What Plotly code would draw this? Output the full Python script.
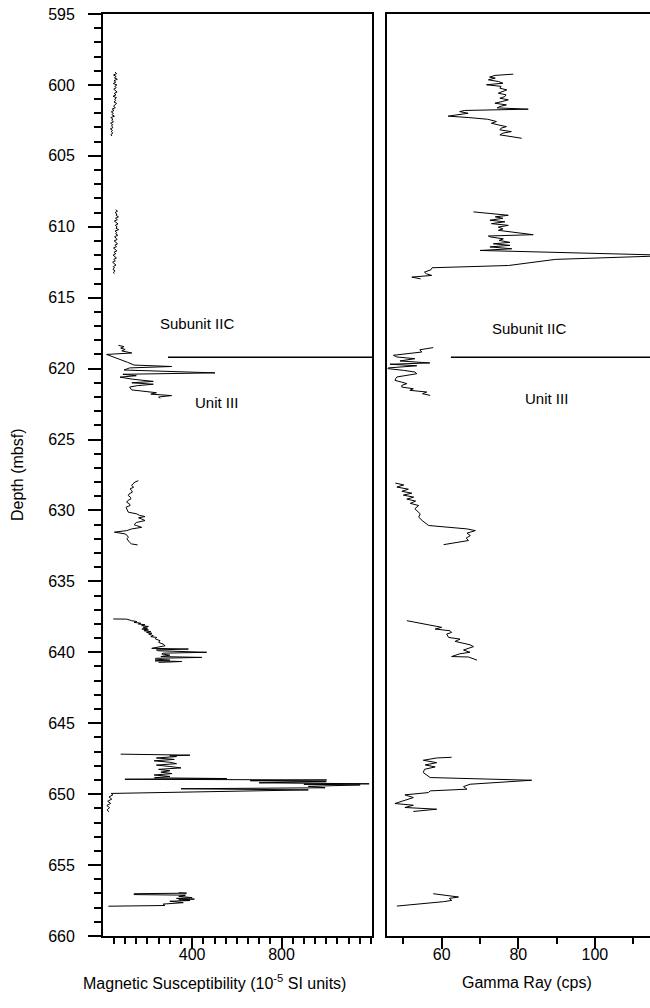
import plotly.graph_objects as go

# ---------------- Magnetic susceptibility (10^-5 SI) ----------------
ms_depth_1 = [round(599.1 + 0.1 * i, 2) for i in range(46)]
ms_value_1 = [55, 62, 48, 60, 52, 65, 50, 58, 47, 63, 54, 60, 49, 57, 64, 51, 59, 46, 61, 53,
              58, 50, 62, 55, 48, 56, 42, 50, 38, 47, 41, 52, 36, 45, 40, 48, 35, 44, 39, 46,
              34, 43, 38, 45, 36, 41]

ms_depth_2 = [round(608.8 + 0.1 * i, 2) for i in range(46)]
ms_value_2 = [58, 66, 55, 63, 60, 70, 57, 65, 52, 62, 68, 56, 64, 59, 71, 55, 62, 58, 67, 53,
              60, 64, 51, 59, 66, 54, 61, 48, 57, 63, 50, 58, 46, 55, 61, 49, 56, 44, 53, 59,
              47, 52, 45, 55, 48, 51]

ms_depth_3 = [618.36, 618.45, 618.55, 618.65, 618.75, 618.90, 619.00, 619.15, 619.35, 619.55,
              619.75, 619.85, 619.95, 620.10, 620.30, 620.40, 620.50, 620.60, 620.75, 620.90,
              621.00, 621.10, 621.20, 621.30, 621.50, 621.60, 621.70, 621.80, 621.90, 622.00, 622.10]
ms_value_3 = [70, 95, 80, 100, 85, 130, 17, 45, 80, 110, 140, 308, 120, 95, 502, 90, 150, 77,
              135, 226, 130, 226, 155, 120, 129, 190, 240, 215, 308, 250, 256]

ms_depth_4 = [627.90, 628.00, 628.12, 628.24, 628.36, 628.48, 628.60, 628.71, 628.83, 628.95,
              629.07, 629.18, 629.30, 629.42, 629.54, 629.65, 629.77, 629.89, 630.00, 630.12,
              630.24, 630.35, 630.43, 630.52, 630.60, 630.71, 630.85, 631.00, 631.07, 631.19,
              631.30, 631.42, 631.53, 631.65, 631.77, 631.89, 632.00, 632.13, 632.25, 632.36, 632.43]
ms_value_4 = [159, 144, 135, 129, 138, 122, 130, 132, 118, 114, 124, 126, 112, 107, 120, 122,
              104, 107, 112, 114, 152, 165, 189, 160, 174, 189, 150, 140, 152, 174, 130, 107,
              52, 99, 110, 114, 108, 114, 120, 129, 156]

ms_depth_5 = [637.65, 637.66, 637.77, 637.83, 637.89, 637.95, 638.00, 638.06, 638.12, 638.18,
              638.24, 638.30, 638.36, 638.42, 638.48, 638.54, 638.60, 638.66, 638.71, 638.83,
              638.90, 638.95, 639.05, 639.18, 639.30, 639.42, 639.54, 639.65, 639.72, 639.77,
              639.83, 639.89, 640.00, 640.06, 640.12, 640.20, 640.30, 640.36, 640.42, 640.48,
              640.55, 640.60, 640.65, 640.71]
ms_value_5 = [47, 107, 129, 152, 140, 170, 159, 189, 174, 204, 181, 200, 175, 204, 185, 215,
              196, 220, 205, 226, 215, 241, 235, 256, 250, 270, 279, 250, 219, 383, 240, 249,
              465, 270, 264, 300, 260, 443, 240, 234, 300, 234, 353, 250]

ms_depth_6 = [647.18, 647.25, 647.30, 647.35, 647.45, 647.55, 647.65, 647.75, 647.85, 647.95,
              648.05, 648.15, 648.25, 648.35, 648.45, 648.55, 648.65, 648.75, 648.85, 648.90,
              648.95, 649.00, 649.05, 649.12, 649.20, 649.27, 649.30, 649.35, 649.45, 649.55,
              649.62, 649.70, 649.95, 650.05, 650.20, 650.35, 650.50, 650.65, 650.80, 650.95,
              651.10, 651.25]
ms_value_6 = [80, 390, 300, 330, 240, 320, 230, 300, 330, 240, 300, 350, 250, 300, 260, 310,
              230, 300, 231, 555, 99, 1002, 660, 1000, 700, 1192, 900, 1152, 920, 995, 350, 920,
              37, 45, 28, 40, 22, 35, 18, 30, 20, 26]

ms_depth_7 = [656.95, 656.98, 657.02, 657.08, 657.12, 657.20, 657.30, 657.35, 657.40, 657.45,
              657.50, 657.55, 657.65, 657.75, 657.85, 657.90]
ms_value_7 = [340, 375, 140, 140, 370, 340, 400, 330, 410, 340, 390, 300, 360, 270, 278, 25]

# ---------------- Natural gamma ray (cps) ----------------
gr_depth_1 = [599.24, 599.33, 599.45, 599.52, 599.64, 599.76, 599.88, 599.99, 600.10, 600.23,
              600.35, 600.46, 600.58, 600.70, 600.82, 600.94, 601.05, 601.17, 601.29, 601.41,
              601.52, 601.62, 601.71, 601.80, 601.88, 602.00, 602.11, 602.20, 602.30, 602.42,
              602.58, 602.70, 602.82, 602.94, 603.05, 603.17, 603.29, 603.40, 603.52, 603.65, 603.76]
gr_value_1 = [78.7, 73.9, 72.5, 74.0, 72.2, 74.8, 76.0, 71.7, 75.5, 75.2, 77.0, 76.1, 74.8,
              76.8, 76.5, 75.2, 77.4, 75.8, 73.9, 76.9, 75.2, 74.5, 82.6, 66.0, 64.7, 66.9,
              63.5, 61.7, 67.0, 72.0, 74.3, 73.0, 74.8, 76.9, 75.5, 75.2, 78.2, 76.0, 75.2,
              79.0, 80.9]

gr_depth_2 = [608.95, 609.10, 609.19, 609.30, 609.40, 609.54, 609.65, 609.78, 609.90, 610.02,
              610.15, 610.25, 610.40, 610.56, 610.65, 610.72, 610.85, 610.96, 611.10, 611.20,
              611.31, 611.42, 611.55, 611.67, 612.02, 612.30, 612.73, 612.89, 613.03, 613.20,
              613.31, 613.43, 613.55, 613.67]
gr_value_2 = [68.3, 75.3, 77.4, 74.0, 76.0, 72.6, 76.5, 73.0, 77.4, 74.8, 76.0, 74.8, 79.0,
              83.9, 72.2, 72.8, 76.1, 75.0, 77.8, 73.5, 77.8, 72.6, 78.3, 70.0, 121.0, 89.7,
              77.5, 57.5, 57.2, 55.5, 56.0, 57.4, 52.2, 54.5]

gr_depth_3 = [618.52, 618.67, 618.83, 619.06, 619.18, 619.30, 619.46, 619.60, 619.69, 619.80,
              619.95, 620.00, 620.12, 620.24, 620.36, 620.48, 620.59, 620.70, 620.83, 620.95,
              621.06, 621.18, 621.30, 621.42, 621.53, 621.65, 621.77, 621.89]
gr_value_3 = [57.8, 54.3, 54.8, 47.4, 48.3, 53.0, 49.1, 56.9, 46.5, 53.5, 46.1, 45.9, 50.0,
              53.0, 53.5, 50.0, 48.3, 48.0, 47.8, 49.5, 50.9, 49.6, 49.6, 52.6, 51.7, 56.1,
              55.0, 57.0]

gr_depth_4 = [628.07, 628.20, 628.35, 628.50, 628.65, 628.78, 628.92, 629.06, 629.20, 629.34,
              629.50, 629.65, 629.88, 630.24, 630.47, 630.71, 631.06, 631.30, 631.42, 631.60,
              631.77, 631.95, 632.12, 632.41]
gr_value_4 = [47.9, 50.1, 48.3, 51.3, 49.6, 52.2, 50.0, 52.7, 50.9, 53.2, 51.8, 54.0, 53.0,
              54.4, 54.0, 54.9, 56.6, 66.6, 68.8, 66.6, 67.5, 66.4, 67.0, 60.5]

gr_depth_5 = [637.77, 638.12, 638.24, 638.36, 638.48, 638.60, 638.71, 638.95, 639.07, 639.23,
              639.47, 639.60, 639.84, 640.00, 640.10, 640.30, 640.33, 640.55]
gr_value_5 = [50.9, 57.4, 60.0, 58.3, 62.2, 62.6, 61.3, 61.8, 64.8, 63.5, 67.4, 68.3, 65.7,
              67.4, 64.8, 62.6, 67.0, 69.2]

gr_depth_6 = [647.40, 647.45, 647.61, 647.78, 647.94, 648.08, 648.25, 648.48, 648.83, 649.02,
              649.30, 649.47, 649.65, 649.77, 649.89, 650.05, 650.24, 650.47, 650.66, 650.78,
              650.94, 651.06, 651.22]
gr_value_6 = [62.6, 58.7, 55.2, 58.7, 55.7, 58.3, 55.5, 55.2, 57.0, 83.5, 67.4, 65.7, 66.6,
              57.0, 56.5, 50.4, 52.6, 50.0, 47.8, 52.6, 50.4, 58.7, 52.6]

gr_depth_7 = [657.02, 657.18, 657.25, 657.35, 657.49, 657.58, 657.89]
gr_value_7 = [57.8, 62.2, 64.4, 62.0, 62.6, 60.5, 48.3]

# ---------------- Unit boundary ----------------
boundary_depth = 619.2
ms_boundary_from = 292
gr_boundary_from = 62.4
unit_labels = ["Subunit IIC", "Unit III"]

# ---------------- Axes ----------------
depth_range = [660, 595]
depth_major = list(range(595, 661, 5))
ms_range = [0, 1205]
ms_major = [400, 800]
ms_minor = [v for v in range(50, 1201, 50) if v not in ms_major]
gr_range = [45.8, 114.4]
gr_major = [60, 80, 100]
gr_minor = [50, 70, 90, 110]

FONT = "Liberation Sans, Arial, sans-serif"
W, H = 650, 1008
TOP, BOTTOM = 14, 72
PLOT_H = H - TOP - BOTTOM

fig = go.Figure()

line_style = dict(color="black", width=1)
ms_segments = [(ms_depth_1, ms_value_1), (ms_depth_2, ms_value_2), (ms_depth_3, ms_value_3),
               (ms_depth_4, ms_value_4), (ms_depth_5, ms_value_5), (ms_depth_6, ms_value_6),
               (ms_depth_7, ms_value_7)]
gr_segments = [(gr_depth_1, gr_value_1), (gr_depth_2, gr_value_2), (gr_depth_3, gr_value_3),
               (gr_depth_4, gr_value_4), (gr_depth_5, gr_value_5), (gr_depth_6, gr_value_6),
               (gr_depth_7, gr_value_7)]

for d, v in ms_segments:
    fig.add_trace(go.Scatter(x=v, y=d, mode="lines", line=line_style,
                             xaxis="x", yaxis="y", hoverinfo="skip"))
for d, v in gr_segments:
    fig.add_trace(go.Scatter(x=v, y=d, mode="lines", line=line_style,
                             xaxis="x2", yaxis="y2", hoverinfo="skip"))

# unit boundary lines
fig.add_trace(go.Scatter(x=[ms_boundary_from, ms_range[1]], y=[boundary_depth, boundary_depth],
                         mode="lines", line=dict(color="black", width=1.5),
                         xaxis="x", yaxis="y", hoverinfo="skip"))
fig.add_trace(go.Scatter(x=[gr_boundary_from, gr_range[1]], y=[boundary_depth, boundary_depth],
                         mode="lines", line=dict(color="black", width=1.5),
                         xaxis="x2", yaxis="y2", hoverinfo="skip"))

left_dom = [102.8 / W, 372 / W]
right_dom = [387.3 / W, 1.0]

tick_font = dict(family=FONT, size=16, color="black")
x_tick_style = dict(ticks="outside", ticklen=11, tickwidth=1.5, tickcolor="black",
                    tickfont=tick_font, ticklabelstandoff=-8, automargin=False)

fig.update_layout(
    width=W, height=H,
    margin=dict(l=0, r=0, t=TOP, b=BOTTOM),
    paper_bgcolor="white", plot_bgcolor="white",
    showlegend=False,
    font=dict(family=FONT, color="black"),
    xaxis=dict(domain=left_dom, range=ms_range, showgrid=False, zeroline=False,
               showline=True, linecolor="black", linewidth=1.5, mirror=True,
               tickmode="array", tickvals=ms_major, ticktext=[str(v) for v in ms_major],
               **x_tick_style,
               minor=dict(tickmode="array", tickvals=ms_minor, ticks="outside",
                          ticklen=6, tickwidth=1.5, tickcolor="black")),
    yaxis=dict(range=depth_range, showgrid=False, zeroline=False,
               showline=True, linecolor="black", linewidth=1.5, mirror=True,
               tickmode="array", tickvals=depth_major, ticktext=[str(v) for v in depth_major],
               ticks="outside", ticklen=13, tickwidth=1.5, tickcolor="black",
               tickfont=tick_font, ticklabelstandoff=10, automargin=False,
               minor=dict(dtick=1, tick0=595, ticks="outside", ticklen=7,
                          tickwidth=1.5, tickcolor="black")),
    xaxis2=dict(domain=right_dom, range=gr_range, anchor="y2", showgrid=False, zeroline=False,
                showline=True, linecolor="black", linewidth=1.5, mirror=True,
                tickmode="array", tickvals=gr_major, ticktext=[str(v) for v in gr_major],
                **x_tick_style,
                minor=dict(tickmode="array", tickvals=gr_minor, ticks="outside",
                           ticklen=6, tickwidth=1.5, tickcolor="black")),
    yaxis2=dict(range=depth_range, anchor="x2", matches="y", showgrid=False, zeroline=False,
                showline=True, linecolor="black", linewidth=1.5, mirror=False,
                showticklabels=False, ticks="", automargin=False),
)

title_font = dict(family=FONT, size=16, color="black")
label_font = dict(family=FONT, size=15, color="black")


def py_to_paper(py):
    return (H - BOTTOM - py) / PLOT_H


annotations = [
    dict(text="Depth (mbsf)", x=17 / W, y=0.5, xref="paper", yref="paper",
         textangle=-90, showarrow=False, font=title_font, xanchor="center", yanchor="middle"),
    dict(text="Magnetic Susceptibility (10<sup>-5</sup> SI units)", x=214 / W, y=py_to_paper(982),
         xref="paper", yref="paper", showarrow=False, font=title_font,
         xanchor="center", yanchor="middle"),
    dict(text="Gamma Ray (cps)", x=527 / W, y=py_to_paper(982), xref="paper", yref="paper",
         showarrow=False, font=title_font, xanchor="center", yanchor="middle"),
    dict(text=unit_labels[0], x=422, y=616.8, xref="x", yref="y", showarrow=False,
         font=label_font),
    dict(text=unit_labels[1], x=510, y=622.4, xref="x", yref="y", showarrow=False,
         font=label_font),
    dict(text=unit_labels[0], x=82.8, y=617.2, xref="x2", yref="y2", showarrow=False,
         font=label_font),
    dict(text=unit_labels[1], x=87.5, y=622.1, xref="x2", yref="y2", showarrow=False,
         font=label_font),
]
fig.update_layout(annotations=annotations)

fig.write_html("out.html")
